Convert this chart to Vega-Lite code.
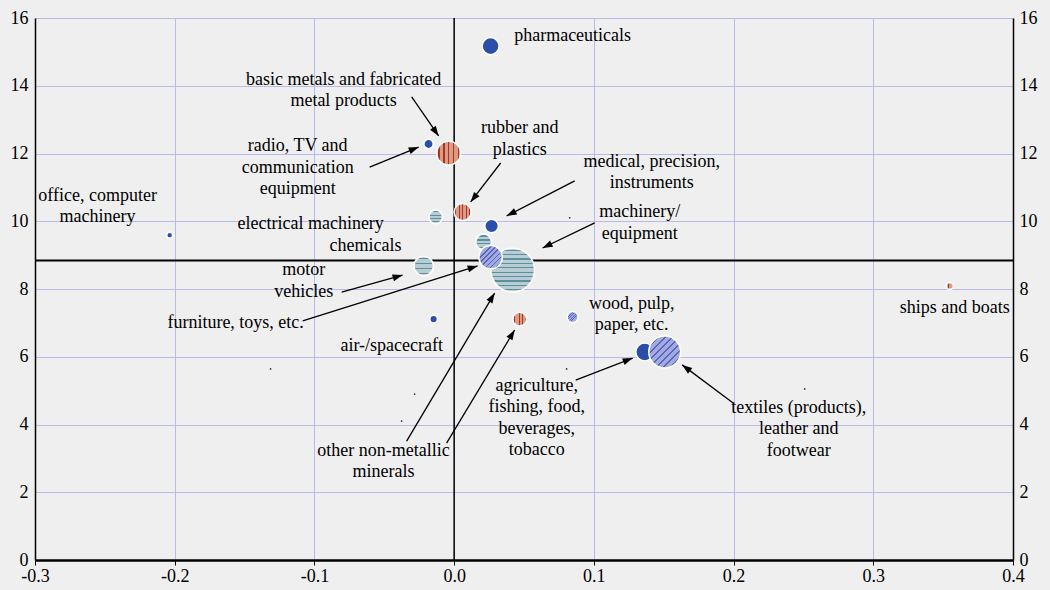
{
  "$schema": "https://vega.github.io/schema/vega-lite/v6.json",
  "width": 978,
  "height": 542,
  "autosize": "none",
  "padding": {"left": 35, "top": 18, "right": 37, "bottom": 30},
  "background": "#efefef",
  "config": {
    "view": {"stroke": null},
    "font": "Liberation Serif",
    "axis": {
      "labelFont": "Liberation Serif",
      "labelFontSize": 18,
      "labelColor": "black",
      "domainColor": "black",
      "tickColor": "black",
      "gridColor": "#b9b9ea",
      "gridWidth": 1,
      "gridOpacity": 1,
      "title": null,
      "labelBound": false,
      "labelFlush": false,
      "labelOverlap": false
    }
  },
  "datasets": {
    "bubbles": [
      {"sector": "pharmaceuticals", "tech": "high", "x": 0.0261, "y": 15.17, "w": 100},
      {"sector": "radio, TV and communication equipment", "tech": "high", "x": -0.0183, "y": 12.28, "w": 30},
      {"sector": "medical, precision, instruments", "tech": "high", "x": 0.0268, "y": 9.86, "w": 64},
      {"sector": "office, computer machinery", "tech": "high", "x": -0.2036, "y": 9.59, "w": 12},
      {"sector": "air-/spacecraft", "tech": "high", "x": -0.0147, "y": 7.11, "w": 20},
      {"sector": "agriculture, fishing, food, beverages, tobacco", "tech": "primary", "x": 0.1364, "y": 6.14, "w": 110},
      {"sector": "electrical machinery", "tech": "medhigh", "x": -0.0132, "y": 10.13, "w": 64},
      {"sector": "chemicals", "tech": "medhigh", "x": 0.0211, "y": 9.39, "w": 85},
      {"sector": "motor vehicles", "tech": "medhigh", "x": -0.0218, "y": 8.68, "w": 132},
      {"sector": "machinery/equipment", "tech": "medhigh", "x": 0.0419, "y": 8.56, "w": 660},
      {"sector": "basic metals and fabricated metal products", "tech": "medlow", "x": -0.0039, "y": 12.01, "w": 196},
      {"sector": "rubber and plastics", "tech": "medlow", "x": 0.0061, "y": 10.27, "w": 100},
      {"sector": "other non-metallic minerals", "tech": "medlow", "x": 0.0469, "y": 7.11, "w": 64},
      {"sector": "ships and boats", "tech": "medlow", "x": 0.3547, "y": 8.09, "w": 16},
      {"sector": "furniture, toys, etc.", "tech": "low", "x": 0.0261, "y": 8.94, "w": 188},
      {"sector": "wood, pulp, paper, etc.", "tech": "low", "x": 0.0848, "y": 7.17, "w": 42},
      {"sector": "textiles (products), leather and footwear", "tech": "low", "x": 0.1507, "y": 6.14, "w": 350}
    ],
    "dots": [
      {"x": -0.1314, "y": 5.64},
      {"x": -0.0283, "y": 4.90},
      {"x": -0.0376, "y": 4.10},
      {"x": 0.0827, "y": 10.10},
      {"x": 0.0805, "y": 5.64},
      {"x": 0.2509, "y": 5.05}
    ],
    "arrows": [
      {"xs": -0.0304, "ys": 13.67, "xe": -0.0111, "ye": 12.52, "dir": 145},
      {"xs": -0.0605, "ys": 11.60, "xe": -0.0254, "ye": 12.19, "dir": 68},
      {"xs": 0.0333, "ys": 11.72, "xe": 0.0118, "ye": 10.57, "dir": 218},
      {"xs": 0.0863, "ys": 11.19, "xe": 0.0376, "ye": 10.16, "dir": 243},
      {"xs": 0.1006, "ys": 9.95, "xe": 0.0633, "ye": 9.21, "dir": 244},
      {"xs": -0.0805, "ys": 7.91, "xe": -0.0369, "ye": 8.41, "dir": 74},
      {"xs": -0.1084, "ys": 7.06, "xe": 0.0168, "ye": 8.68, "dir": 73},
      {"xs": -0.0340, "ys": 3.51, "xe": 0.0290, "ye": 7.88, "dir": 31},
      {"xs": -0.0054, "ys": 3.45, "xe": 0.0433, "ye": 6.79, "dir": 31},
      {"xs": 0.0870, "ys": 5.31, "xe": 0.1278, "ye": 5.96, "dir": 69},
      {"xs": 0.2004, "ys": 4.61, "xe": 0.1632, "ye": 5.76, "dir": 307}
    ],
    "labels": [
      {"label": "pharmaceuticals", "x": 0.0848, "y": 15.47},
      {"label": "basic metals and fabricated\nmetal products", "x": -0.0791, "y": 14.17},
      {"label": "rubber and\nplastics", "x": 0.0469, "y": 12.75},
      {"label": "radio, TV and\ncommunication\nequipment", "x": -0.1120, "y": 12.22},
      {"label": "medical, precision,\ninstruments", "x": 0.1414, "y": 11.75},
      {"label": "office, computer\nmachinery", "x": -0.2552, "y": 10.75},
      {"label": "electrical machinery", "x": -0.1027, "y": 9.92},
      {"label": "machinery/\nequipment", "x": 0.1328, "y": 10.27},
      {"label": "chemicals", "x": -0.0634, "y": 9.27},
      {"label": "motor\nvehicles", "x": -0.1077, "y": 8.56},
      {"label": "furniture, toys, etc.", "x": -0.1564, "y": 7.00},
      {"label": "air-/spacecraft", "x": -0.0447, "y": 6.32},
      {"label": "wood, pulp,\npaper, etc.", "x": 0.1271, "y": 7.56},
      {"label": "ships and boats", "x": 0.3583, "y": 7.44},
      {"label": "agriculture,\nfishing, food,\nbeverages,\ntobacco", "x": 0.0591, "y": 5.14},
      {"label": "textiles (products),\nleather and\nfootwear", "x": 0.2466, "y": 4.49},
      {"label": "other non-metallic\nminerals", "x": -0.0505, "y": 3.22}
    ]
  },
  "layer": [
    {
      "data": {"name": "bubbles"},
      "mark": {"type": "point", "opacity": 0},
      "encoding": {
        "x": {"field": "x", "type": "quantitative", "scale": {"domain": [-0.3, 0.4], "nice": false, "zero": false},
              "axis": {"values": [-0.3, -0.2, -0.1, 0, 0.1, 0.2, 0.3, 0.4], "format": ".1f", "labelExpr": "replace(datum.label, '\u2212', '-')", "grid": true, "domainWidth": 2.5, "tickSize": 5, "labelPadding": 2}},
        "y": {"field": "y", "type": "quantitative", "scale": {"domain": [0, 16], "nice": false, "zero": false},
              "axis": {"orient": "left", "values": [0, 2, 4, 6, 8, 10, 12, 14, 16], "format": "d", "grid": true, "ticks": false, "domainWidth": 1.5, "labelPadding": 7}}
      }
    },
    {
      "data": {"name": "bubbles"},
      "mark": {"type": "point", "opacity": 0},
      "encoding": {
        "x": {"field": "x", "type": "quantitative"},
        "y": {"field": "y", "type": "quantitative",
              "axis": {"orient": "right", "values": [0, 2, 4, 6, 8, 10, 12, 14, 16], "format": "d", "grid": false, "ticks": false, "domainWidth": 1.5, "labelPadding": 6}}
      }
    },
    {
      "data": {"values": [{}]},
      "mark": {"type": "rule", "color": "black", "strokeWidth": 1.5},
      "encoding": {"x": {"datum": 0, "type": "quantitative"}}
    },
    {
      "data": {"values": [{}]},
      "mark": {"type": "rule", "color": "black", "strokeWidth": 2},
      "encoding": {"y": {"datum": 8.84, "type": "quantitative", "axis": null}}
    },
    {
      "data": {"name": "dots"},
      "mark": {"type": "circle", "color": "#333333", "size": 3, "opacity": 1},
      "encoding": {
        "x": {"field": "x", "type": "quantitative"},
        "y": {"field": "y", "type": "quantitative", "axis": null}
      }
    },
    {
      "data": {"name": "bubbles"},
      "transform": [{"filter": "datum.tech == 'high' || datum.tech == 'primary'"}],
      "mark": {"type": "point", "shape": "circle", "filled": true, "fill": "#2b4fa9", "fillOpacity": 1, "stroke": "white", "strokeWidth": 1.5, "strokeOpacity": 1},
      "encoding": {
        "x": {"field": "x", "type": "quantitative"},
        "y": {"field": "y", "type": "quantitative", "axis": null},
        "size": {"field": "w", "type": "quantitative", "scale": {"domain": [0, 1000], "range": [0, 2900]}, "legend": null}
      }
    },
    {
      "data": {"name": "bubbles"},
      "transform": [{"filter": "datum.tech == 'medhigh' && datum.w < 500"}],
      "mark": {"type": "point", "shape": "circle", "filled": true, "fillOpacity": 1, "stroke": "white", "strokeWidth": 1.5, "strokeOpacity": 1,
        "fill": {"gradient": "linear", "x1": 0, "y1": 0, "x2": 0, "y2": 1, "stops": [
          {"offset": 0, "color": "#b8ccd4"}, {"offset": 0.09, "color": "#b8ccd4"}, {"offset": 0.09, "color": "#5f8f9d"}, {"offset": 0.16, "color": "#5f8f9d"}, {"offset": 0.16, "color": "#b8ccd4"},
          {"offset": 0.34, "color": "#b8ccd4"}, {"offset": 0.34, "color": "#5f8f9d"}, {"offset": 0.41, "color": "#5f8f9d"}, {"offset": 0.41, "color": "#b8ccd4"},
          {"offset": 0.59, "color": "#b8ccd4"}, {"offset": 0.59, "color": "#5f8f9d"}, {"offset": 0.66, "color": "#5f8f9d"}, {"offset": 0.66, "color": "#b8ccd4"},
          {"offset": 0.84, "color": "#b8ccd4"}, {"offset": 0.84, "color": "#5f8f9d"}, {"offset": 0.91, "color": "#5f8f9d"}, {"offset": 0.91, "color": "#b8ccd4"},
          {"offset": 1, "color": "#b8ccd4"}]}},
      "encoding": {
        "x": {"field": "x", "type": "quantitative"},
        "y": {"field": "y", "type": "quantitative", "axis": null},
        "size": {"field": "w", "type": "quantitative", "legend": null}
      }
    },
    {
      "data": {"name": "bubbles"},
      "transform": [{"filter": "datum.tech == 'medhigh' && datum.w >= 500"}],
      "mark": {"type": "point", "shape": "circle", "filled": true, "fillOpacity": 1, "stroke": "white", "strokeWidth": 1.5, "strokeOpacity": 1,
        "fill": {"gradient": "linear", "x1": 0, "y1": 0, "x2": 0, "y2": 1, "stops": [
          {"offset": 0, "color": "#b8ccd4"}, {"offset": 0.035, "color": "#b8ccd4"}, {"offset": 0.035, "color": "#5f8f9d"}, {"offset": 0.065, "color": "#5f8f9d"}, {"offset": 0.065, "color": "#b8ccd4"},
          {"offset": 0.135, "color": "#b8ccd4"}, {"offset": 0.135, "color": "#5f8f9d"}, {"offset": 0.165, "color": "#5f8f9d"}, {"offset": 0.165, "color": "#b8ccd4"},
          {"offset": 0.235, "color": "#b8ccd4"}, {"offset": 0.235, "color": "#5f8f9d"}, {"offset": 0.265, "color": "#5f8f9d"}, {"offset": 0.265, "color": "#b8ccd4"},
          {"offset": 0.335, "color": "#b8ccd4"}, {"offset": 0.335, "color": "#5f8f9d"}, {"offset": 0.365, "color": "#5f8f9d"}, {"offset": 0.365, "color": "#b8ccd4"},
          {"offset": 0.435, "color": "#b8ccd4"}, {"offset": 0.435, "color": "#5f8f9d"}, {"offset": 0.465, "color": "#5f8f9d"}, {"offset": 0.465, "color": "#b8ccd4"},
          {"offset": 0.535, "color": "#b8ccd4"}, {"offset": 0.535, "color": "#5f8f9d"}, {"offset": 0.565, "color": "#5f8f9d"}, {"offset": 0.565, "color": "#b8ccd4"},
          {"offset": 0.635, "color": "#b8ccd4"}, {"offset": 0.635, "color": "#5f8f9d"}, {"offset": 0.665, "color": "#5f8f9d"}, {"offset": 0.665, "color": "#b8ccd4"},
          {"offset": 0.735, "color": "#b8ccd4"}, {"offset": 0.735, "color": "#5f8f9d"}, {"offset": 0.765, "color": "#5f8f9d"}, {"offset": 0.765, "color": "#b8ccd4"},
          {"offset": 0.835, "color": "#b8ccd4"}, {"offset": 0.835, "color": "#5f8f9d"}, {"offset": 0.865, "color": "#5f8f9d"}, {"offset": 0.865, "color": "#b8ccd4"},
          {"offset": 0.935, "color": "#b8ccd4"}, {"offset": 0.935, "color": "#5f8f9d"}, {"offset": 0.965, "color": "#5f8f9d"}, {"offset": 0.965, "color": "#b8ccd4"},
          {"offset": 1, "color": "#b8ccd4"}]}},
      "encoding": {
        "x": {"field": "x", "type": "quantitative"},
        "y": {"field": "y", "type": "quantitative", "axis": null},
        "size": {"field": "w", "type": "quantitative", "legend": null}
      }
    },
    {
      "data": {"name": "bubbles"},
      "transform": [{"filter": "datum.tech == 'medlow'"}],
      "mark": {"type": "point", "shape": "circle", "filled": true, "fillOpacity": 1, "stroke": "white", "strokeWidth": 1.5, "strokeOpacity": 1,
        "fill": {"gradient": "linear", "x1": 0, "y1": 0, "x2": 1, "y2": 0, "stops": [
          {"offset": 0, "color": "#dc9b83"}, {"offset": 0.07, "color": "#dc9b83"}, {"offset": 0.07, "color": "#a83428"}, {"offset": 0.13, "color": "#a83428"}, {"offset": 0.13, "color": "#dc9b83"},
          {"offset": 0.27, "color": "#dc9b83"}, {"offset": 0.27, "color": "#a83428"}, {"offset": 0.33, "color": "#a83428"}, {"offset": 0.33, "color": "#dc9b83"},
          {"offset": 0.47, "color": "#dc9b83"}, {"offset": 0.47, "color": "#a83428"}, {"offset": 0.53, "color": "#a83428"}, {"offset": 0.53, "color": "#dc9b83"},
          {"offset": 0.67, "color": "#dc9b83"}, {"offset": 0.67, "color": "#a83428"}, {"offset": 0.73, "color": "#a83428"}, {"offset": 0.73, "color": "#dc9b83"},
          {"offset": 0.87, "color": "#dc9b83"}, {"offset": 0.87, "color": "#a83428"}, {"offset": 0.93, "color": "#a83428"}, {"offset": 0.93, "color": "#dc9b83"},
          {"offset": 1, "color": "#dc9b83"}]}},
      "encoding": {
        "x": {"field": "x", "type": "quantitative"},
        "y": {"field": "y", "type": "quantitative", "axis": null},
        "size": {"field": "w", "type": "quantitative", "legend": null}
      }
    },
    {
      "data": {"name": "bubbles"},
      "transform": [{"filter": "datum.tech == 'low'"}],
      "mark": {"type": "point", "shape": "circle", "filled": true, "fillOpacity": 1, "stroke": "white", "strokeWidth": 1.5, "strokeOpacity": 1,
        "fill": {"gradient": "linear", "x1": 0, "y1": 0, "x2": 1, "y2": 1, "stops": [
          {"offset": 0, "color": "#a2aadf"}, {"offset": 0.039, "color": "#a2aadf"}, {"offset": 0.039, "color": "#5666ba"}, {"offset": 0.072, "color": "#5666ba"}, {"offset": 0.072, "color": "#a2aadf"},
          {"offset": 0.150, "color": "#a2aadf"}, {"offset": 0.150, "color": "#5666ba"}, {"offset": 0.183, "color": "#5666ba"}, {"offset": 0.183, "color": "#a2aadf"},
          {"offset": 0.261, "color": "#a2aadf"}, {"offset": 0.261, "color": "#5666ba"}, {"offset": 0.294, "color": "#5666ba"}, {"offset": 0.294, "color": "#a2aadf"},
          {"offset": 0.372, "color": "#a2aadf"}, {"offset": 0.372, "color": "#5666ba"}, {"offset": 0.405, "color": "#5666ba"}, {"offset": 0.405, "color": "#a2aadf"},
          {"offset": 0.483, "color": "#a2aadf"}, {"offset": 0.483, "color": "#5666ba"}, {"offset": 0.516, "color": "#5666ba"}, {"offset": 0.516, "color": "#a2aadf"},
          {"offset": 0.594, "color": "#a2aadf"}, {"offset": 0.594, "color": "#5666ba"}, {"offset": 0.627, "color": "#5666ba"}, {"offset": 0.627, "color": "#a2aadf"},
          {"offset": 0.705, "color": "#a2aadf"}, {"offset": 0.705, "color": "#5666ba"}, {"offset": 0.738, "color": "#5666ba"}, {"offset": 0.738, "color": "#a2aadf"},
          {"offset": 0.816, "color": "#a2aadf"}, {"offset": 0.816, "color": "#5666ba"}, {"offset": 0.849, "color": "#5666ba"}, {"offset": 0.849, "color": "#a2aadf"},
          {"offset": 0.927, "color": "#a2aadf"}, {"offset": 0.927, "color": "#5666ba"}, {"offset": 0.960, "color": "#5666ba"}, {"offset": 0.960, "color": "#a2aadf"},
          {"offset": 1, "color": "#a2aadf"}]}},
      "encoding": {
        "x": {"field": "x", "type": "quantitative"},
        "y": {"field": "y", "type": "quantitative", "axis": null},
        "size": {"field": "w", "type": "quantitative", "legend": null}
      }
    },
    {
      "data": {"name": "arrows"},
      "mark": {"type": "rule", "color": "black", "strokeWidth": 1.3},
      "encoding": {
        "x": {"field": "xs", "type": "quantitative"},
        "y": {"field": "ys", "type": "quantitative", "axis": null},
        "x2": {"field": "xe"},
        "y2": {"field": "ye"}
      }
    },
    {
      "data": {"name": "arrows"},
      "mark": {"type": "point", "shape": "M0,0L-0.35,1L0.35,1Z", "filled": true, "color": "black", "opacity": 1, "size": 400, "strokeWidth": 0},
      "encoding": {
        "x": {"field": "xe", "type": "quantitative"},
        "y": {"field": "ye", "type": "quantitative", "axis": null},
        "angle": {"field": "dir", "type": "quantitative", "scale": null}
      }
    },
    {
      "data": {"name": "labels"},
      "mark": {"type": "text", "font": "Liberation Serif", "fontSize": 18, "lineHeight": 21.5, "lineBreak": "\n", "align": "center", "baseline": "middle", "color": "black"},
      "encoding": {
        "x": {"field": "x", "type": "quantitative"},
        "y": {"field": "y", "type": "quantitative", "axis": null},
        "text": {"field": "label", "type": "nominal"}
      }
    }
  ],
  "resolve": {"axis": {"y": "independent"}}
}
